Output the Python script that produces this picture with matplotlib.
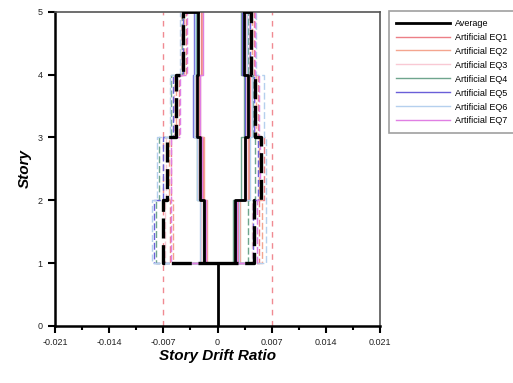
import matplotlib
matplotlib.use("Agg")
import matplotlib.pyplot as plt
import numpy as np

plt.rcParams['font.family'] = ['Liberation Sans', 'DejaVu Sans']

# story levels for the step plot (drift of story i plotted from level i to i+1)
levels = [1, 2, 3, 4, 5]
drift_limit = 0.007

names = ["Artificial EQ1", "Artificial EQ2", "Artificial EQ3", "Artificial EQ4",
         "Artificial EQ5", "Artificial EQ6", "Artificial EQ7"]
colors = ["#ec7f86", "#f4a58f", "#f9c9d4", "#6fa58e", "#6a5fd8", "#b5d0ee", "#e07fe3"]

# average drift, stories 1-4 (solid = one direction, dashed = other direction)
avg_neg_solid = [-0.0017, -0.0022, -0.0027, -0.0025]
avg_neg_dash = [-0.0070, -0.0065, -0.0054, -0.0044]
avg_pos_solid = [0.0023, 0.0036, 0.0039, 0.0034]
avg_pos_dash = [0.0047, 0.0056, 0.0049, 0.0043]

# individual records (EQ1..EQ7)
eq_neg_solid = [
    [-0.0016, -0.0019, -0.0024, -0.0021],
    [-0.0014, -0.0018, -0.0023, -0.0020],
    [-0.0021, -0.0025, -0.0029, -0.0027],
    [-0.0019, -0.0026, -0.0030, -0.0028],
    [-0.0018, -0.0023, -0.0032, -0.0030],
    [-0.0022, -0.0027, -0.0031, -0.0029],
    [-0.0015, -0.0020, -0.0022, -0.0019],
]
eq_neg_dash = [
    [-0.0062, -0.0060, -0.0050, -0.0041],
    [-0.0057, -0.0063, -0.0053, -0.0043],
    [-0.0068, -0.0067, -0.0056, -0.0047],
    [-0.0080, -0.0076, -0.0060, -0.0046],
    [-0.0082, -0.0071, -0.0058, -0.0045],
    [-0.0085, -0.0078, -0.0062, -0.0048],
    [-0.0060, -0.0060, -0.0048, -0.0040],
]
eq_pos_solid = [
    [0.0026, 0.0041, 0.0042, 0.0036],
    [0.0029, 0.0039, 0.0040, 0.0035],
    [0.0021, 0.0034, 0.0037, 0.0032],
    [0.0020, 0.0030, 0.0034, 0.0030],
    [0.0024, 0.0035, 0.0036, 0.0031],
    [0.0028, 0.0042, 0.0044, 0.0038],
    [0.0025, 0.0037, 0.0040, 0.0036],
]
eq_pos_dash = [
    [0.0053, 0.0060, 0.0052, 0.0047],
    [0.0058, 0.0054, 0.0050, 0.0044],
    [0.0044, 0.0052, 0.0048, 0.0041],
    [0.0040, 0.0048, 0.0046, 0.0040],
    [0.0046, 0.0052, 0.0047, 0.0042],
    [0.0062, 0.0063, 0.0060, 0.0050],
    [0.0051, 0.0055, 0.0053, 0.0048],
]

xticks = [-0.021, -0.014, -0.007, 0, 0.007, 0.014, 0.021]
xticklabels = ["-0.021", "-0.014", "-0.007", "0", "0.007", "0.014", "0.021"]


def story_step(ax, vals, **kw):
    # start from zero drift at level 1, then step up story by story
    x = [0] + list(vals)
    return ax.step(x, levels, where='post', **kw)


fig = plt.figure(figsize=(5.13, 3.83), dpi=100)
ax = fig.add_axes([0.107, 0.149, 0.634, 0.82])

# limit lines
ax.axvline(-drift_limit, color="#f08a92", lw=1, ls=(0, (4, 4)), zorder=1)
ax.axvline(drift_limit, color="#f08a92", lw=1, ls=(0, (4, 4)), zorder=1)

handles = []
for i in range(len(names)):
    c = colors[i]
    h, = story_step(ax, eq_neg_solid[i], color=c, lw=1.0, zorder=2)
    story_step(ax, eq_pos_solid[i], color=c, lw=1.0, zorder=2)
    story_step(ax, eq_neg_dash[i], color=c, lw=1.0, ls=(0, (5, 2)), zorder=2)
    story_step(ax, eq_pos_dash[i], color=c, lw=1.0, ls=(0, (5, 2)), zorder=2)
    handles.append(h)

# average
h_avg, = story_step(ax, avg_neg_solid, color="black", lw=2.0, zorder=4)
story_step(ax, avg_pos_solid, color="black", lw=2.0, zorder=4)
story_step(ax, avg_neg_dash, color="black", lw=2.4, ls=(0, (6, 2)), zorder=4)
story_step(ax, avg_pos_dash, color="black", lw=2.4, ls=(0, (6, 2)), zorder=4)
ax.plot([0, 0], [0, levels[0]], color="black", lw=2.0, zorder=4)
ax.plot([avg_neg_dash[-1], avg_neg_solid[-1]], [levels[-1], levels[-1]], color="black", lw=2.0, zorder=4)
ax.plot([avg_pos_solid[-1], avg_pos_dash[-1]], [levels[-1], levels[-1]], color="black", lw=2.0, zorder=4)

ax.set_xlim(-0.021, 0.021)
ax.set_ylim(0, 5)
ax.set_xticks(xticks)
ax.set_xticklabels(xticklabels)
ax.set_xticks(np.arange(-0.0175, 0.021, 0.007), minor=True)
ax.set_yticks([0, 1, 2, 3, 4, 5])
ax.tick_params(axis='both', which='major', direction='out', length=5, width=1.5,
               labelsize=6.5, pad=4, labelcolor="#222222")
ax.tick_params(axis='x', which='minor', direction='out', length=3, width=1.5)

for s in ['left', 'bottom']:
    ax.spines[s].set_linewidth(1.8)
    ax.spines[s].set_color("black")
for s in ['top', 'right']:
    ax.spines[s].set_linewidth(1.2)
    ax.spines[s].set_color("#555555")

ax.set_xlabel("Story Drift Ratio", fontsize=11, fontweight='bold', style='italic', labelpad=1)
ax.set_ylabel("Story", fontsize=11, fontweight='bold', style='italic', labelpad=4)

leg = fig.legend([h_avg] + handles, ["Average"] + names,
                 loc='upper left', bbox_to_anchor=(0.758, 0.97),
                 fontsize=6.5, handlelength=6.0, handletextpad=0.5,
                 labelspacing=0.55, borderpad=0.8, borderaxespad=0,
                 frameon=True, fancybox=False)
leg.get_frame().set_edgecolor("#888888")
leg.get_frame().set_linewidth(1.2)

fig.savefig("out.png", dpi=100)
